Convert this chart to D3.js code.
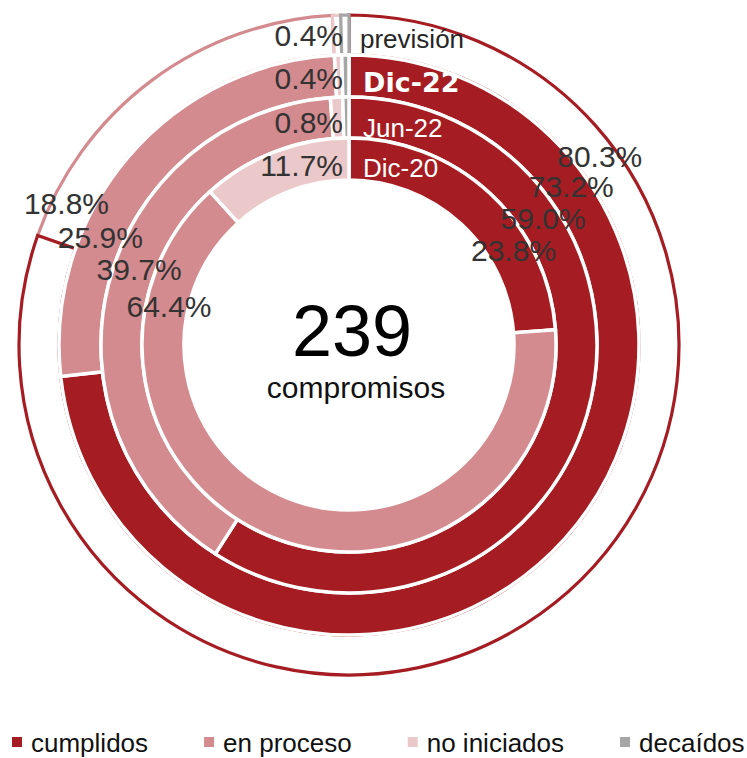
<!DOCTYPE html>
<html>
<head>
<meta charset="utf-8">
<script src="https://cdn.jsdelivr.net/npm/d3@7/dist/d3.min.js"></script>
<style>
  body { margin: 0; background: #fff; }
  text { font-family: "Liberation Sans", Arial, sans-serif; }
</style>
</head>
<body>
<div id="chart"></div>
<script>
// data (percent of 239 compromisos), outer ring first
const rings = ["previsión", "Dic-22", "Jun-22", "Dic-20"];
const categories = ["cumplidos", "en proceso", "no iniciados", "decaídos"];
const cumplidos = [80.3, 73.2, 59.0, 23.8];
const enProceso = [18.8, 25.9, 39.7, 64.4];
const noIniciados = [0.4, 0.4, 0.8, 11.7];
const decaidos = [0.4, 0.4, 0.4, 0];
const total = 239;

const width = 747, height = 758;
const cx = 349, cy = 345;

// ring radii [inner, outer]
const radii = [[290, 330], [248, 290], [207, 248], [165, 207]];

const color = d3.scaleOrdinal()
  .domain(categories)
  .range(["#a51d23", "#d48b8f", "#ebc8c9", "#a6a6a6"]);

const svg = d3.select("#chart")
  .append("svg")
  .attr("width", width)
  .attr("height", height);

const g = svg.append("g")
  .attr("transform", "translate(" + cx + "," + cy + ")");

const pie = d3.pie()
  .sort(null)
  .value(d => d.value);

const arc = d3.arc();

rings.forEach((ring, i) => {
  const vals = [cumplidos[i], enProceso[i], noIniciados[i], decaidos[i]];
  const slices = pie(categories.map((c, k) => ({ key: c, value: vals[k] })))
    .filter(d => d.data.value > 0);
  const [r0, r1] = radii[i];

  if (i === 0) {
    // outer ring: outlined slices only
    const order = ["en proceso", "no iniciados", "cumplidos", "decaídos"];
    slices.sort((a, b) => order.indexOf(a.data.key) - order.indexOf(b.data.key));
    g.append("g").selectAll("path")
      .data(slices)
      .enter()
      .append("path")
      .attr("d", d => arc.innerRadius(r0).outerRadius(r1)(d))
      .attr("fill", "#fff")
      .attr("stroke", d => color(d.data.key))
      .attr("stroke-width", 3.2)
      .attr("stroke-linejoin", "miter");
  } else {
    g.append("g").selectAll("path")
      .data(slices)
      .enter()
      .append("path")
      .attr("d", d => arc.innerRadius(r0).outerRadius(r1)(d))
      .attr("fill", d => color(d.data.key))
      .attr("stroke", "#fff")
      .attr("stroke-width", 3.5);
  }
});

// label helpers
const mid = radii.map(r => (r[0] + r[1]) / 2);
const polar = (r, deg) => {
  const a = deg * Math.PI / 180;
  return [r * Math.sin(a), -r * Math.cos(a)];
};

// cumplidos labels (right side)
const cumplAngle = [53, 54.5, 57, 60];
g.selectAll(".lab-c")
  .data(cumplidos)
  .enter()
  .append("text")
  .attr("class", "lab-c")
  .attr("x", (d, i) => polar(mid[i] + 4, cumplAngle[i])[0])
  .attr("y", (d, i) => polar(mid[i] + 4, cumplAngle[i])[1])
  .attr("text-anchor", "middle")
  .attr("dominant-baseline", "central")
  .attr("font-size", 30)
  .attr("fill", "#333")
  .text(d => d.toFixed(1) + "%");

// en proceso labels (left side)
const procAngle = [-63.4, -66.6, -70.3, -78];
const procR = [316, 271, 223, 184];
g.selectAll(".lab-p")
  .data(enProceso)
  .enter()
  .append("text")
  .attr("class", "lab-p")
  .attr("x", (d, i) => polar(procR[i], procAngle[i])[0])
  .attr("y", (d, i) => polar(procR[i], procAngle[i])[1])
  .attr("text-anchor", "middle")
  .attr("dominant-baseline", "central")
  .attr("font-size", 30)
  .attr("fill", "#333")
  .text(d => d.toFixed(1) + "%");

// no iniciados labels (left of 12 o'clock)
g.selectAll(".lab-n")
  .data(noIniciados)
  .enter()
  .append("text")
  .attr("class", "lab-n")
  .attr("x", -6)
  .attr("y", (d, i) => -mid[i] + [0, 2, 5, 6][i])
  .attr("text-anchor", "end")
  .attr("dominant-baseline", "central")
  .attr("font-size", 30)
  .attr("fill", "#333")
  .text(d => d.toFixed(1) + "%");

// ring names (right of 12 o'clock)
g.selectAll(".lab-r")
  .data(rings)
  .enter()
  .append("text")
  .attr("class", "lab-r")
  .attr("x", (d, i) => (i === 0 ? 11 : 14))
  .attr("y", (d, i) => -mid[i] + [13, 16, 19, 18][i])
  .attr("font-size", (d, i) => (i === 0 ? 26 : i === 1 ? 27 : 26))
  .attr("font-weight", (d, i) => (i === 1 ? "bold" : "normal"))
  .style("font-family", (d, i) => (i === 1 ? "'DejaVu Sans', sans-serif" : null))
  .attr("fill", (d, i) => (i === 0 ? "#262626" : "#fff"))
  .text(d => d);

// center text
g.append("text")
  .attr("x", 3)
  .attr("y", 11)
  .attr("text-anchor", "middle")
  .attr("font-size", 72)
  .attr("fill", "#000")
  .text(total);

g.append("text")
  .attr("x", 7)
  .attr("y", 53)
  .attr("text-anchor", "middle")
  .attr("font-size", 30)
  .attr("fill", "#111")
  .text("compromisos");

// legend
const legend = svg.append("g").attr("transform", "translate(12, 752)");
let lx = 0;
categories.forEach(c => {
  const item = legend.append("g").attr("transform", "translate(" + lx + ",0)");
  item.append("rect")
    .attr("x", 0)
    .attr("y", -15)
    .attr("width", 10)
    .attr("height", 10)
    .attr("fill", color(c));
  const t = item.append("text")
    .attr("x", 19)
    .attr("y", 0)
    .attr("font-size", 26)
    .attr("fill", "#111")
    .text(c);
  lx += 19 + t.node().getComputedTextLength() + 56;
});
</script>
</body>
</html>
